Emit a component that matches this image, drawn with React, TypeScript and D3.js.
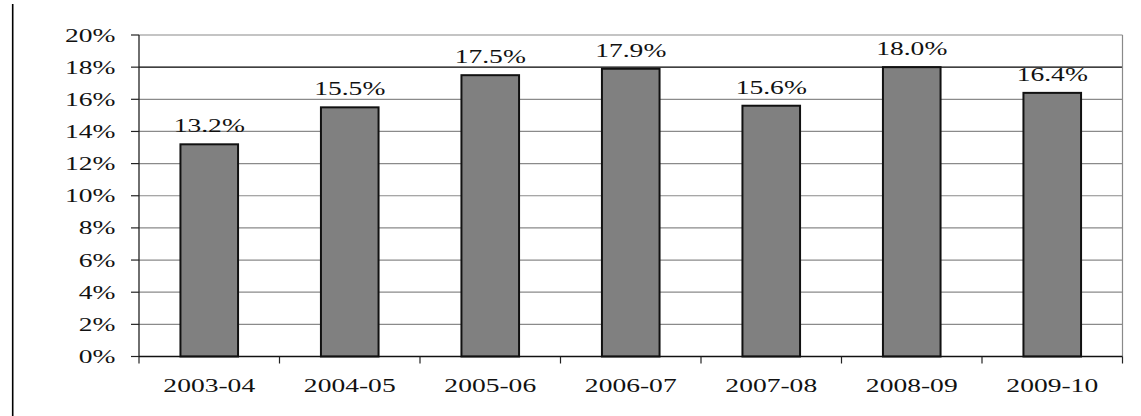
import React from "react";
import * as d3 from "d3";

const years = ["2003-04", "2004-05", "2005-06", "2006-07", "2007-08", "2008-09", "2009-10"];
const shares = [13.2, 15.5, 17.5, 17.9, 15.6, 18.0, 16.4];
const yTicks = [0, 2, 4, 6, 8, 10, 12, 14, 16, 18, 20];

const W = 1141;
const H = 416;
const left = 139;
const right = 1122.5;
const top = 35;
const bottom = 356.5;

const FONT = "'Liberation Serif', 'Times New Roman', serif";
const FS = 19;
const SX = 1.45;

export default function App() {
  const x = d3.scaleBand<string>().domain(years).range([left, right]).paddingInner(0.59).paddingOuter(0.295);
  const band = d3.scaleBand<string>().domain(years).range([left, right]);
  const y = d3.scaleLinear().domain([0, 20]).range([bottom, top]);
  const fmt = (v: number) => `${v.toFixed(1)}%`;

  const label = (tx: number, ty: number, text: string, anchor: string, key?: string) => (
    <text
      key={key}
      transform={`translate(${tx},${ty}) scale(${SX},1)`}
      textAnchor={anchor}
      fontFamily={FONT}
      fontSize={FS}
      fill="#111"
    >
      {text}
    </text>
  );

  return (
    <svg
      width={W}
      height={H}
      style={{ position: "absolute", left: 0, top: 0, background: "#fff" }}
    >
      {/* left frame line */}
      <line x1={12.7} x2={12.7} y1={4} y2={H} stroke="#000" strokeWidth={1.6} />

      {/* horizontal gridlines */}
      {yTicks.slice(1).map((t) => (
        <line
          key={`g${t}`}
          x1={left}
          x2={right}
          y1={y(t)}
          y2={y(t)}
          stroke={t === 18 ? "#000" : "#8a8a8a"}
          strokeWidth={t === 18 ? 1.3 : 1.2}
        />
      ))}
      {/* right border */}
      <line x1={right} x2={right} y1={top} y2={bottom} stroke="#8a8a8a" strokeWidth={1.2} />

      {/* y axis with ticks and labels */}
      <line x1={left} x2={left} y1={top} y2={bottom} stroke="#222" strokeWidth={1.3} />
      {yTicks.map((t) => (
        <g key={`y${t}`}>
          <line x1={131} x2={left} y1={y(t)} y2={y(t)} stroke="#222" strokeWidth={1.2} />
          {label(115.5, y(t) + 6.5, `${t}%`, "end")}
        </g>
      ))}

      {/* bars */}
      {years.map((c, i) => (
        <rect
          key={`b${c}`}
          x={x(c)}
          y={y(shares[i])}
          width={x.bandwidth()}
          height={bottom - y(shares[i])}
          fill="#808080"
          stroke="#111"
          strokeWidth={2}
        />
      ))}

      {/* value labels */}
      {years.map((c, i) =>
        label((x(c) ?? 0) + x.bandwidth() / 2, y(shares[i]) - 12, fmt(shares[i]), "middle", `v${c}`)
      )}

      {/* x axis */}
      <line x1={left} x2={right} y1={bottom} y2={bottom} stroke="#111" strokeWidth={1.4} />
      {[...years.map((c) => band(c) ?? 0), right].map((px, i) => (
        <line key={`xt${i}`} x1={px} x2={px} y1={bottom} y2={bottom + 7} stroke="#222" strokeWidth={1.2} />
      ))}
      {years.map((c) =>
        label((band(c) ?? 0) + band.bandwidth() / 2, 392, c, "middle", `xl${c}`)
      )}
    </svg>
  );
}
